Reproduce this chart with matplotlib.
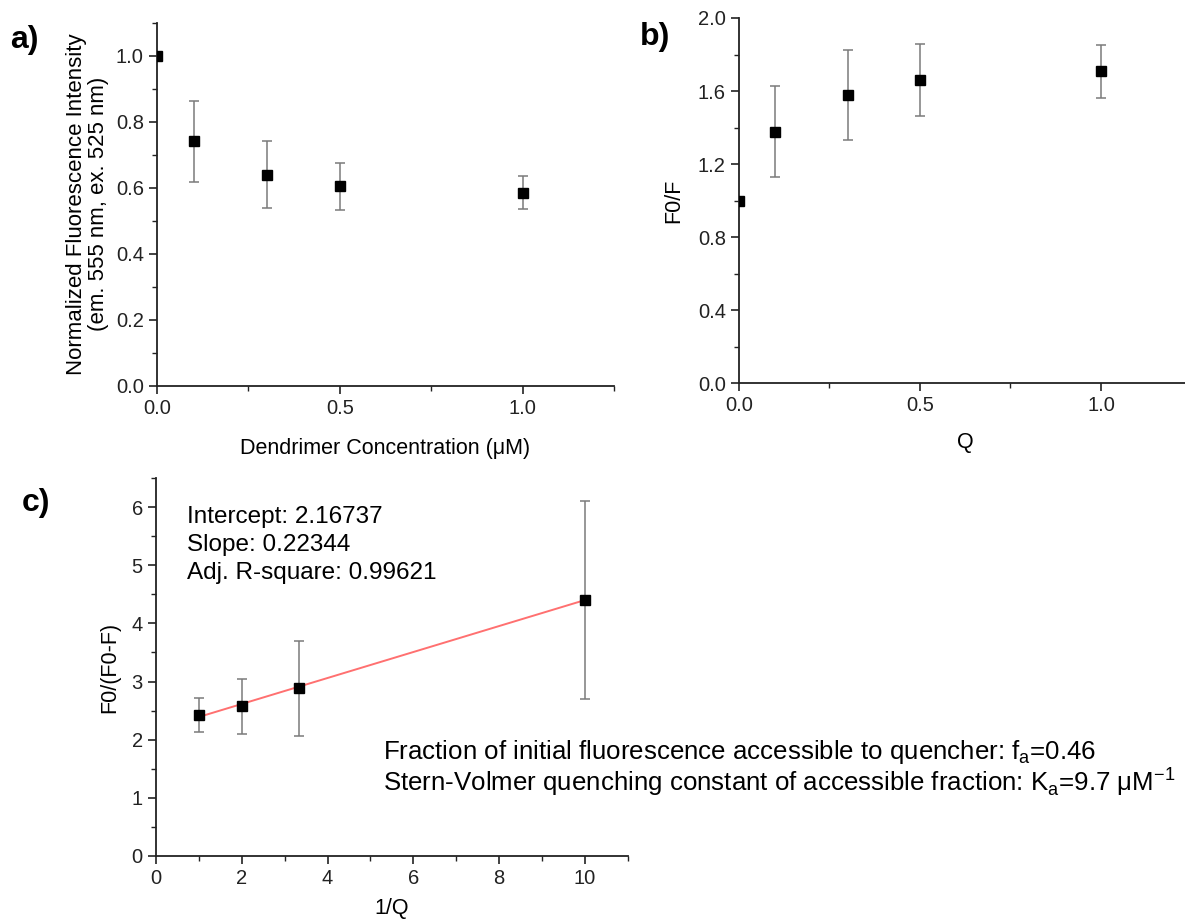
import numpy as np
import matplotlib.pyplot as plt
from matplotlib.ticker import MultipleLocator

# a) normalized fluorescence vs dendrimer concentration
conc = [0.0, 0.1, 0.3, 0.5, 1.0]
norm_int = [1.0, 0.741, 0.640, 0.605, 0.585]
norm_err = [0.0, 0.123, 0.101, 0.071, 0.050]

# b) F0/F vs Q
q = [0.0, 0.1, 0.3, 0.5, 1.0]
f0f = [1.0, 1.378, 1.578, 1.659, 1.707]
f0f_err = [0.0, 0.250, 0.247, 0.198, 0.147]

# c) modified Stern-Volmer
inv_q = [1.0, 2.0, 3.33, 10.0]
f0df = [2.427, 2.573, 2.886, 4.406]
f0df_err = [0.296, 0.470, 0.818, 1.702]
intercept = 2.16737
slope = 0.22344
adj_r2 = 0.99621
fit_x = np.array([1.0, 10.0])

plt.rcParams['font.family'] = ['Liberation Sans', 'DejaVu Sans']

fig = plt.figure(figsize=(11.85, 9.23), dpi=100)

def style(ax):
    for s in ['top', 'right']:
        ax.spines[s].set_visible(False)
    for s in ['left', 'bottom']:
        ax.spines[s].set_linewidth(1.3)
        ax.spines[s].set_color('#222222')
    ax.tick_params(which='major', direction='out', length=6, width=1.2, labelsize=14.5, colors='#222222')
    ax.tick_params(which='minor', direction='out', length=3.5, width=1.0, colors='#222222')

def points(ax, x, y, e):
    ax.errorbar(x, y, yerr=e, fmt='s', color='black', markersize=6.5,
                ecolor='#7a7a7a', elinewidth=1.1, capsize=3.5, capthick=1.1, zorder=3)

ax1 = fig.add_axes([0.1325, 0.5818, 0.3857, 0.3936])
points(ax1, conc, norm_int, norm_err)
ax1.set_xlim(0, 1.25)
ax1.set_ylim(0, 1.1)
ax1.xaxis.set_major_locator(MultipleLocator(0.5))
ax1.xaxis.set_minor_locator(MultipleLocator(0.25))
ax1.yaxis.set_major_locator(MultipleLocator(0.2))
ax1.yaxis.set_minor_locator(MultipleLocator(0.1))
ax1.xaxis.set_major_formatter(lambda v, p: f'{v:.1f}')
ax1.yaxis.set_major_formatter(lambda v, p: f'{v:.1f}')
style(ax1)
ax1.set_xlabel('Dendrimer Concentration (μM)', fontsize=15.5, labelpad=14)
ax1.set_ylabel('Normalized Fluorescence Intensity\n(em. 555 nm, ex. 525 nm)', fontsize=16, labelpad=5, linespacing=1.05)

ax2 = fig.add_axes([0.6236, 0.585, 0.3819, 0.3955])
points(ax2, q, f0f, f0f_err)
ax2.set_xlim(0, 1.25)
ax2.set_ylim(0, 2.0)
ax2.xaxis.set_major_locator(MultipleLocator(0.5))
ax2.xaxis.set_minor_locator(MultipleLocator(0.25))
ax2.yaxis.set_major_locator(MultipleLocator(0.4))
ax2.yaxis.set_minor_locator(MultipleLocator(0.2))
ax2.xaxis.set_major_formatter(lambda v, p: f'{v:.1f}')
ax2.yaxis.set_major_formatter(lambda v, p: f'{v:.1f}')
style(ax2)
ax2.set_xlabel('Q', fontsize=15.5, labelpad=12)
ax2.set_ylabel('F0/F', fontsize=15.5, labelpad=10)

ax3 = fig.add_axes([0.1316, 0.0726, 0.3983, 0.4095])
ax3.plot(fit_x, intercept + slope * fit_x, color='#ff7070', lw=1.4, zorder=2)
points(ax3, inv_q, f0df, f0df_err)
ax3.set_xlim(0, 11)
ax3.set_ylim(0, 6.5)
ax3.xaxis.set_major_locator(MultipleLocator(2))
ax3.xaxis.set_minor_locator(MultipleLocator(1))
ax3.yaxis.set_major_locator(MultipleLocator(1))
ax3.yaxis.set_minor_locator(MultipleLocator(0.5))
style(ax3)
ax3.set_xlabel('1/Q', fontsize=15.5, labelpad=7)
ax3.set_ylabel('F0/(F0-F)', fontsize=15.5, labelpad=8)

fig.text(187 / 1185, 1 - 545 / 923,
         f'Intercept: {intercept}\nSlope: {slope}\nAdj. R-square: {adj_r2}',
         fontsize=17.5, va='center', ha='left', linespacing=1.35)
fig.text(383 / 1185, 1 - 768 / 923,
         'Fraction of initial fluorescence accessible to quencher: f$_\\mathregular{a}$=0.46\n'
         'Stern-Volmer quenching constant of accessible fraction: K$_\\mathregular{a}$=9.7 μM$^\\mathregular{-1}$',
         fontsize=18.6, va='center', ha='left', linespacing=0.98)

fig.text(10 / 1185, 1 - 40 / 923, 'a)', fontsize=23, fontweight='bold', va='center')
fig.text(640 / 1185, 1 - 37 / 923, 'b)', fontsize=23, fontweight='bold', va='center')
fig.text(22 / 1185, 1 - 503 / 923, 'c)', fontsize=23, fontweight='bold', va='center')

fig.savefig('out.png', dpi=100)
